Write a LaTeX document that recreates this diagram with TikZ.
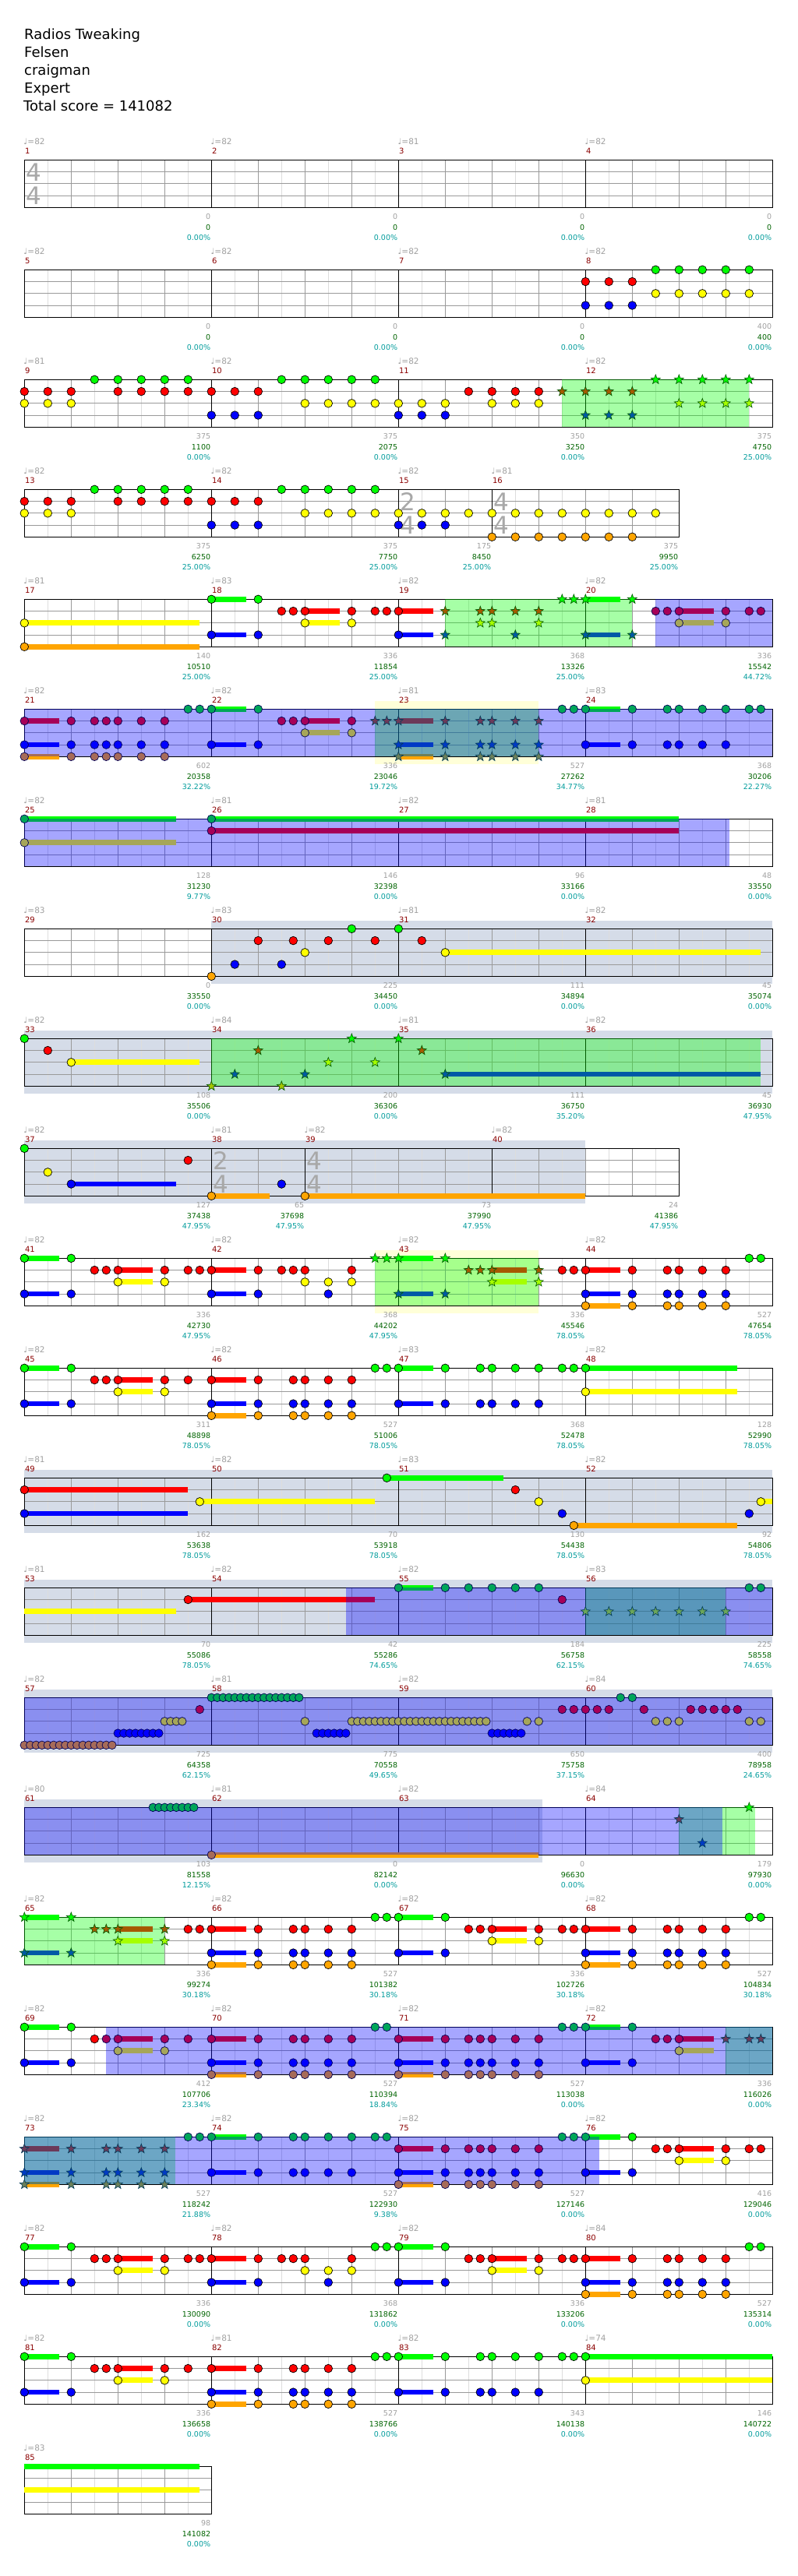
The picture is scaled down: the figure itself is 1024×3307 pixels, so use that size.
\documentclass[tikz,border=0pt]{standalone}
\usepackage{fontspec}
\setmainfont{DejaVu Sans}
\usepackage{tikz}
\definecolor{lane0}{HTML}{00FF00}
\definecolor{lane1}{HTML}{FF0000}
\definecolor{lane2}{HTML}{FFFF00}
\definecolor{lane3}{HTML}{0000FF}
\definecolor{lane4}{HTML}{FFA500}
\definecolor{slate}{HTML}{D5DCE8}
\definecolor{cream}{HTML}{FFFFD8}
\definecolor{fretgrey}{HTML}{9A9A9A}
\definecolor{subgrey}{HTML}{DDDDDD}
\definecolor{inkgrey}{HTML}{A0A0A0}
\definecolor{sigrey}{HTML}{A8A8A8}
\definecolor{barred}{HTML}{8B0000}
\definecolor{scoregreen}{HTML}{006400}
\definecolor{pctteal}{HTML}{009C9C}

\newcommand{\starat}[3]{\filldraw[#3, line width=0.6pt, shift={(#1,#2)}]
  (-90:6.4) -- (-54:2.6) -- (-18:6.4) -- (18:2.6) -- (54:6.4) -- (90:2.6)
  -- (126:6.4) -- (162:2.6) -- (198:6.4) -- (234:2.6) -- cycle;}
\newcommand{\gemplain}[3]{\filldraw[fill=#3, draw=black, line width=0.7pt] (#1,#2) circle[radius=5.3pt];}
\newcommand{\gemod}[3]{\filldraw[fill=#3!65!blue, draw=black!65!blue, line width=0.7pt] (#1,#2) circle[radius=5.3pt];}
\newcommand{\gemsp}[3]{\starat{#1}{#2}{fill=#3!65!green, draw=black!65!green}}
\newcommand{\gemspod}[3]{\starat{#1}{#2}{fill=#3!65!green!65!blue, draw=black!65!green!65!blue}}

\begin{document}
\begin{tikzpicture}[x=1pt, y=-1pt,
    head/.style={anchor=base west, inner sep=0pt, font=\fontsize{18}{22}\selectfont},
    tempo/.style={anchor=base west, inner sep=0pt, text=inkgrey, font=\fontsize{10.5}{12}\selectfont},
    barnum/.style={anchor=base west, inner sep=0pt, text=barred, font=\fontsize{10}{12}\selectfont},
    stat/.style={anchor=base east, inner sep=0pt, font=\fontsize{9.5}{11}\selectfont},
    timesig/.style={anchor=west, inner sep=0pt, text=sigrey, font=\fontsize{31}{31}\selectfont}]
  \useasboundingbox[fill=white] (0,0) rectangle (1024,3307);

  % header
  \node[head] (title) at (31,50) {Radios Tweaking};
  \node[head] (artist) at (31,73) {Felsen};
  \node[head] (charter) at (31,96) {craigman};
  \node[head] (level) at (31,119) {Expert};
  \node[head] (total) at (30,142) {Total score = 141082};

  % shaded bands behind the staff
  \foreach \r/\a/\b/\c in {6/30/44/cream, 8/16/64/slate, 9/0/64/slate, 10/0/48/slate,
      11/30/44/cream, 13/0/64/slate, 14/0/64/slate, 15/0/64/slate, 16/0/44.3/slate} {
    \pgfmathsetmacro\yt{205.3+141*(\r-1)}
    \fill[\c] (31.3+15*\a,\yt-10) rectangle (31.3+15*\b,\yt+71);
  }

  % staff grids
  \foreach \r/\L in {1/64,2/64,3/64,4/56,5/64,6/64,7/64,8/64,9/64,10/56,11/64,
      12/64,13/64,14/64,15/64,16/64,17/64,18/64,19/64,20/64,21/64,22/16} {
    \pgfmathsetmacro\yt{205.3+141*(\r-1)}
    \pgfmathsetmacro\xe{31.3+15*\L}
    \pgfmathtruncatemacro\nq{\L/2-1}
    \foreach \q in {1,...,\nq} {
      \pgfmathsetmacro\xq{31.3+30*\q}
      \ifodd\q \draw[subgrey, line width=1pt] (\xq,\yt) -- (\xq,\yt+61);
      \else \draw[fretgrey, line width=1pt] (\xq,\yt) -- (\xq,\yt+61); \fi
    }
    \foreach \l in {1,2,3}
      \draw[fretgrey, line width=1pt] (31.3,\yt+15.25*\l) -- (\xe,\yt+15.25*\l);
    \draw[black, line width=1.3pt] (31.3,\yt) rectangle (\xe,\yt+61);
  }

  % time signatures
  \foreach \r/\p/\u/\d in {1/0/4/4, 4/32/2/4, 4/40/4/4, 10/16/2/4, 10/24/4/4} {
    \pgfmathsetmacro\yt{205.3+141*(\r-1)}
    \node[timesig] (ts\r-\p) at (33.3+15*\p,\yt+15.5) {\u};
    \node[timesig] (tb\r-\p) at (33.3+15*\p,\yt+45.5) {\d};
  }

  % bars: number/row/start/end/tempo/notes/score/percent
  \foreach \m/\r/\s/\e/\t/\a/\b/\c in {
      1/1/0/16/82/0/0/0.00, 2/1/16/32/82/0/0/0.00, 3/1/32/48/81/0/0/0.00, 4/1/48/64/82/0/0/0.00,
      5/2/0/16/82/0/0/0.00, 6/2/16/32/82/0/0/0.00, 7/2/32/48/82/0/0/0.00, 8/2/48/64/82/400/400/0.00,
      9/3/0/16/81/375/1100/0.00, 10/3/16/32/82/375/2075/0.00, 11/3/32/48/82/350/3250/0.00, 12/3/48/64/82/375/4750/25.00,
      13/4/0/16/82/375/6250/25.00, 14/4/16/32/82/375/7750/25.00, 15/4/32/40/82/175/8450/25.00, 16/4/40/56/81/375/9950/25.00,
      17/5/0/16/81/140/10510/25.00, 18/5/16/32/83/336/11854/25.00, 19/5/32/48/82/368/13326/25.00, 20/5/48/64/82/336/15542/44.72,
      21/6/0/16/82/602/20358/32.22, 22/6/16/32/82/336/23046/19.72, 23/6/32/48/81/527/27262/34.77, 24/6/48/64/83/368/30206/22.27,
      25/7/0/16/82/128/31230/9.77, 26/7/16/32/81/146/32398/0.00, 27/7/32/48/82/96/33166/0.00, 28/7/48/64/81/48/33550/0.00,
      29/8/0/16/83/0/33550/0.00, 30/8/16/32/83/225/34450/0.00, 31/8/32/48/81/111/34894/0.00, 32/8/48/64/82/45/35074/0.00,
      33/9/0/16/82/108/35506/0.00, 34/9/16/32/84/200/36306/0.00, 35/9/32/48/81/111/36750/35.20, 36/9/48/64/82/45/36930/47.95,
      37/10/0/16/82/127/37438/47.95, 38/10/16/24/81/65/37698/47.95, 39/10/24/40/82/73/37990/47.95, 40/10/40/56/82/24/41386/47.95,
      41/11/0/16/82/336/42730/47.95, 42/11/16/32/82/368/44202/47.95, 43/11/32/48/82/336/45546/78.05, 44/11/48/64/82/527/47654/78.05,
      45/12/0/16/82/311/48898/78.05, 46/12/16/32/82/527/51006/78.05, 47/12/32/48/83/368/52478/78.05, 48/12/48/64/82/128/52990/78.05,
      49/13/0/16/81/162/53638/78.05, 50/13/16/32/82/70/53918/78.05, 51/13/32/48/83/130/54438/78.05, 52/13/48/64/82/92/54806/78.05,
      53/14/0/16/81/70/55086/78.05, 54/14/16/32/82/42/55286/74.65, 55/14/32/48/82/184/56758/62.15, 56/14/48/64/83/225/58558/74.65,
      57/15/0/16/82/725/64358/62.15, 58/15/16/32/81/775/70558/49.65, 59/15/32/48/82/650/75758/37.15, 60/15/48/64/84/400/78958/24.65,
      61/16/0/16/80/103/81558/12.15, 62/16/16/32/81/0/82142/0.00, 63/16/32/48/82/0/96630/0.00, 64/16/48/64/84/179/97930/0.00,
      65/17/0/16/82/336/99274/30.18, 66/17/16/32/82/527/101382/30.18, 67/17/32/48/82/336/102726/30.18, 68/17/48/64/82/527/104834/30.18,
      69/18/0/16/82/412/107706/23.34, 70/18/16/32/82/527/110394/18.84, 71/18/32/48/82/527/113038/0.00, 72/18/48/64/82/336/116026/0.00,
      73/19/0/16/82/527/118242/21.88, 74/19/16/32/82/527/122930/9.38, 75/19/32/48/82/527/127146/0.00, 76/19/48/64/82/416/129046/0.00,
      77/20/0/16/82/336/130090/0.00, 78/20/16/32/82/368/131862/0.00, 79/20/32/48/82/336/133206/0.00, 80/20/48/64/84/527/135314/0.00,
      81/21/0/16/82/336/136658/0.00, 82/21/16/32/81/527/138766/0.00, 83/21/32/48/82/343/140138/0.00, 84/21/48/64/74/146/140722/0.00,
      85/22/0/16/83/98/141082/0.00} {
    \pgfmathsetmacro\yt{205.3+141*(\r-1)}
    \pgfmathsetmacro\xs{31.3+15*\s}
    \pgfmathsetmacro\xe{31.3+15*\e}
    \ifnum\s>0 \draw[black, line width=1pt] (\xs,\yt) -- (\xs,\yt+61); \fi
    \node[tempo] (tp\m) at (\xs-1,\yt-20) {♩=\t};
    \node[barnum] (bn\m) at (\xs+0.5,\yt-7.5) {\m};
    \node[stat, text=inkgrey] (nc\m) at (\xe-1,\yt+76.3) {\a};
    \node[stat, text=scoregreen] (sc\m) at (\xe-1,\yt+89.7) {\b};
    \node[stat, text=pctteal] (pc\m) at (\xe-1,\yt+102.7) {\c\%};
  }

  % sustains: row/from/to/lanes
  \foreach \r/\a/\b/\ls in {5/0/15/{2,4}, 5/16/19/{0,3}, 5/24/27/{1,2}, 5/32/35/{1,3},
      5/48/51/{0,3}, 5/56/59/{1,2},
      6/0/3/{1,3,4}, 6/16/19/{0,3}, 6/24/27/{1,2}, 6/32/35/{1,3,4}, 6/48/51/{0,3},
      7/0/13/{0,2}, 7/16/56/{0,1}, 8/36/63/2, 9/4/15/2, 9/36/63/3,
      10/4/13/3, 10/16/21/4, 10/24/48/4,
      11/0/3/{0,3}, 11/8/11/{1,2}, 11/16/19/{1,3}, 11/32/35/{0,3}, 11/40/43/{1,2}, 11/48/51/{1,3,4},
      12/0/3/{0,3}, 12/8/11/{1,2}, 12/16/19/{1,3,4}, 12/32/35/{0,3}, 12/48/61/{0,2},
      13/0/14/{1,3}, 13/15/30/2, 13/31/41/0, 13/47/61/4, 13/63/64/2,
      14/0/13/2, 14/14/30/1, 14/32/35/0, 16/16/44/4,
      17/0/3/{0,3}, 17/8/11/{1,2}, 17/16/19/{1,3,4}, 17/32/35/{0,3}, 17/40/43/{1,2}, 17/48/51/{1,3,4},
      18/0/3/{0,3}, 18/8/11/{1,2}, 18/16/19/{1,3,4}, 18/32/35/{1,3,4}, 18/48/51/{0,3}, 18/56/59/{1,2},
      19/0/3/{1,3,4}, 19/16/19/{0,3}, 19/32/35/{1,3,4}, 19/48/51/{0,3}, 19/56/59/{1,2},
      20/0/3/{0,3}, 20/8/11/{1,2}, 20/16/19/{1,3}, 20/32/35/{0,3}, 20/40/43/{1,2}, 20/48/51/{1,3,4},
      21/0/3/{0,3}, 21/8/11/{1,2}, 21/16/19/{1,3,4}, 21/32/35/{0,3}, 21/48/64/{0,2}, 22/0/15/{0,2}} {
    \pgfmathsetmacro\yt{205.3+141*(\r-1)}
    \foreach \l in \ls
      \fill[lane\l] (31.3+15*\a,\yt+15.25*\l-3.4) rectangle (31.3+15*\b,\yt+15.25*\l+3.4);
  }

  % star power and overdrive overlays
  \foreach \r/\a/\b/\c in {3/46/62/green, 5/36/52/green, 6/30/44/green, 9/16/63/green,
      11/30/44/green, 14/48/60/green, 16/56/62.5/green, 17/0/12/green, 18/60/64/green,
      19/0/12.9/green,
      5/54/64/blue, 6/0/64/blue, 7/0/60.3/blue, 14/27.5/64/blue, 15/0/64/blue,
      16/0/59.7/blue, 18/7/64/blue, 19/0/49.2/blue} {
    \pgfmathsetmacro\yt{205.3+141*(\r-1)}
    \fill[\c, fill opacity=0.35] (31.3+15*\a,\yt) rectangle (31.3+15*\b,\yt+61);
  }

  % gems: row/positions/lanes/kind
  \foreach \r/\ps/\ls/\k in {
      2/{48,50,52}/{1,3}/plain, 2/{54,56,58,60,62}/{0,2}/plain,
      3/{0,2,4}/{1,2}/plain, 3/{6,8,10,12,14}/0/plain, 3/{8,10,12,14}/1/plain,
      3/{16,18,20}/{1,3}/plain, 3/{22,24,26,28,30}/0/plain, 3/{24,26,28,30}/2/plain,
      3/{32,34,36}/{2,3}/plain, 3/38/1/plain, 3/{40,42,44}/{1,2}/plain,
      3/{46,48,50,52}/1/sp, 3/{48,50,52}/3/sp, 3/{54,56,58,60,62}/0/sp, 3/{56,58,60,62}/2/sp,
      4/{0,2,4}/{1,2}/plain, 4/{6,8,10,12,14}/0/plain, 4/{8,10,12,14}/1/plain,
      4/{16,18,20}/{1,3}/plain, 4/{22,24,26,28,30}/0/plain, 4/{24,26,28,30}/2/plain,
      4/{32,34,36}/{2,3}/plain, 4/38/2/plain, 4/{40,42,44,46,48,50,52}/{2,4}/plain, 4/54/2/plain,
      5/0/{2,4}/plain, 5/{16,20}/{0,3}/plain, 5/{22,23,24,28,30,31,32}/1/plain,
      5/{24,28}/2/plain, 5/32/3/plain,
      5/{36,39,40,42,44}/1/sp, 5/{39,40,44}/2/sp, 5/{36,42,48,52}/3/sp, 5/{46,47,48,52}/0/sp,
      5/{54,55,56,60,62,63}/1/od, 5/{56,60}/2/od,
      6/{0,4,6,7,8,10,12}/{1,3,4}/od, 6/{14,15,16,20}/0/od, 6/{16,20}/3/od,
      6/{22,23,24,28}/1/od, 6/{24,28}/2/od,
      6/{30,31,32,36,39,40,42,44}/1/spod, 6/{32,36,39,40,42,44}/{3,4}/spod,
      6/{46,47,48,52,55,56,58,60,62,63}/0/od, 6/{48,52,55,56,58,60}/3/od,
      7/0/{0,2}/od, 7/16/{0,1}/od,
      8/16/4/plain, 8/{18,22}/3/plain, 8/{20,23,26,30,34}/1/plain, 8/{24,36}/2/plain, 8/{28,32}/0/plain,
      9/0/0/plain, 9/2/1/plain, 9/4/2/plain,
      9/{16,22}/4/sp, 9/{18,24,36}/3/sp, 9/{20,34}/1/sp, 9/{26,30}/2/sp, 9/{28,32}/0/sp,
      10/0/0/plain, 10/2/2/plain, 10/4/3/plain, 10/14/1/plain, 10/{16,24}/4/plain, 10/22/3/plain,
      11/{0,4}/{0,3}/plain, 11/{6,7,8,12,14,15,16,20,22,23,24,28}/1/plain,
      11/{8,12,24,26,28}/2/plain, 11/{16,20,26}/3/plain,
      11/{30,31,32,36}/0/sp, 11/{32,36}/3/sp, 11/{38,39,40,44}/1/sp, 11/{40,44}/2/sp,
      11/{46,47,48,52,55,56,58,60}/1/plain, 11/{48,52,55,56,58,60}/{3,4}/plain, 11/{62,63}/0/plain,
      12/{0,4}/{0,3}/plain, 12/{6,7,8,12,14}/1/plain, 12/{8,12}/2/plain,
      12/{16,20,23,24,26,28}/{1,3,4}/plain, 12/{30,31,32,36,39,40,42,44,46,47,48}/0/plain,
      12/{32,36,39,40,42,44}/3/plain, 12/48/2/plain,
      13/0/{1,3}/plain, 13/15/2/plain, 13/31/0/plain, 13/42/1/plain, 13/44/2/plain,
      13/{46,62}/3/plain, 13/47/4/plain, 13/63/2/plain,
      14/14/1/plain, 14/{32,36,38,40,42,44}/0/od, 14/46/1/od,
      14/{48,50,52,54,56,58,60}/2/spod, 14/{62,63}/0/od,
      15/{0,0.5,...,7.5}/4/od, 15/{8,8.5,...,11.5}/3/od, 15/{12,12.5,13,13.5}/2/od,
      15/15/1/od, 15/{16,16.5,...,23.5}/0/od, 15/24/2/od, 15/{25,25.5,...,27.5}/3/od,
      15/{28,28.5,...,39.5}/2/od, 15/{40,40.5,...,42.5}/3/od, 15/{43,44}/2/od,
      15/{46,47,48,49,50,53,57,58,59,60,61}/1/od, 15/{51,52}/0/od, 15/{54,55,56,62,63}/2/od,
      16/{11,11.5,...,14.5}/0/od, 16/16/4/od, 16/56/1/spod, 16/58/3/spod, 16/62/0/sp,
      17/{0,4}/{0,3}/sp, 17/{6,7,8,12}/1/sp, 17/{8,12}/2/sp,
      17/{14,15,16,20,23,24,26,28}/1/plain, 17/{16,20,23,24,26,28}/{3,4}/plain, 17/{30,31}/0/plain,
      17/{32,36}/{0,3}/plain, 17/{38,39,40,44,46,47}/1/plain, 17/{40,44}/2/plain,
      17/{48,52,55,56,58,60}/{1,3,4}/plain, 17/{62,63}/0/plain,
      18/{0,4}/{0,3}/plain, 18/6/1/plain, 18/{7,8,12,14}/1/od, 18/{8,12}/2/od,
      18/{16,20,23,24,26,28}/{1,3,4}/od, 18/{30,31}/0/od,
      18/{32,36,38,39,40,42,44}/{1,3,4}/od, 18/{46,47,48,52}/0/od, 18/{48,52}/3/od,
      18/{54,55,56}/1/od, 18/56/2/od, 18/{60,62,63}/1/spod,
      19/{0,4,7,8,10,12}/{1,3,4}/spod,
      19/{14,15,16,20,23,24,26,28,30,31}/0/od, 19/{16,20,23,24,26,28}/3/od,
      19/{32,36,38,39,40,42,44}/{1,3,4}/od, 19/{46,47,48}/0/od, 19/{52}/0/plain,
      19/{48,52}/3/plain, 19/{54,55,56,60,62,63}/1/plain, 19/{56,60}/2/plain,
      20/{0,4}/{0,3}/plain, 20/{6,7,8,12,14,15,16,20,22,23,24,28}/1/plain,
      20/{8,12,24,26,28}/2/plain, 20/{16,20,26}/3/plain,
      20/{30,31,32,36}/0/plain, 20/{32,36}/3/plain, 20/{38,39,40,44}/1/plain, 20/{40,44}/2/plain,
      20/{46,47,48,52,55,56,58,60}/1/plain, 20/{48,52,55,56,58,60}/{3,4}/plain, 20/{62,63}/0/plain,
      21/{0,4}/{0,3}/plain, 21/{6,7,8,12,14}/1/plain, 21/{8,12}/2/plain,
      21/{16,20,23,24,26,28}/{1,3,4}/plain, 21/{30,31,32,36,39,40,42,44,46,47,48}/0/plain,
      21/{32,36,39,40,42,44}/3/plain, 21/48/2/plain} {
    \pgfmathsetmacro\yt{205.3+141*(\r-1)}
    \foreach \p in \ps {
      \pgfmathsetmacro\xx{31.3+15*\p}
      \foreach \l in \ls {
        \pgfmathsetmacro\yy{\yt+15.25*\l}
        \csname gem\k\endcsname{\xx}{\yy}{lane\l}
      }
    }
  }
\end{tikzpicture}
\end{document}
